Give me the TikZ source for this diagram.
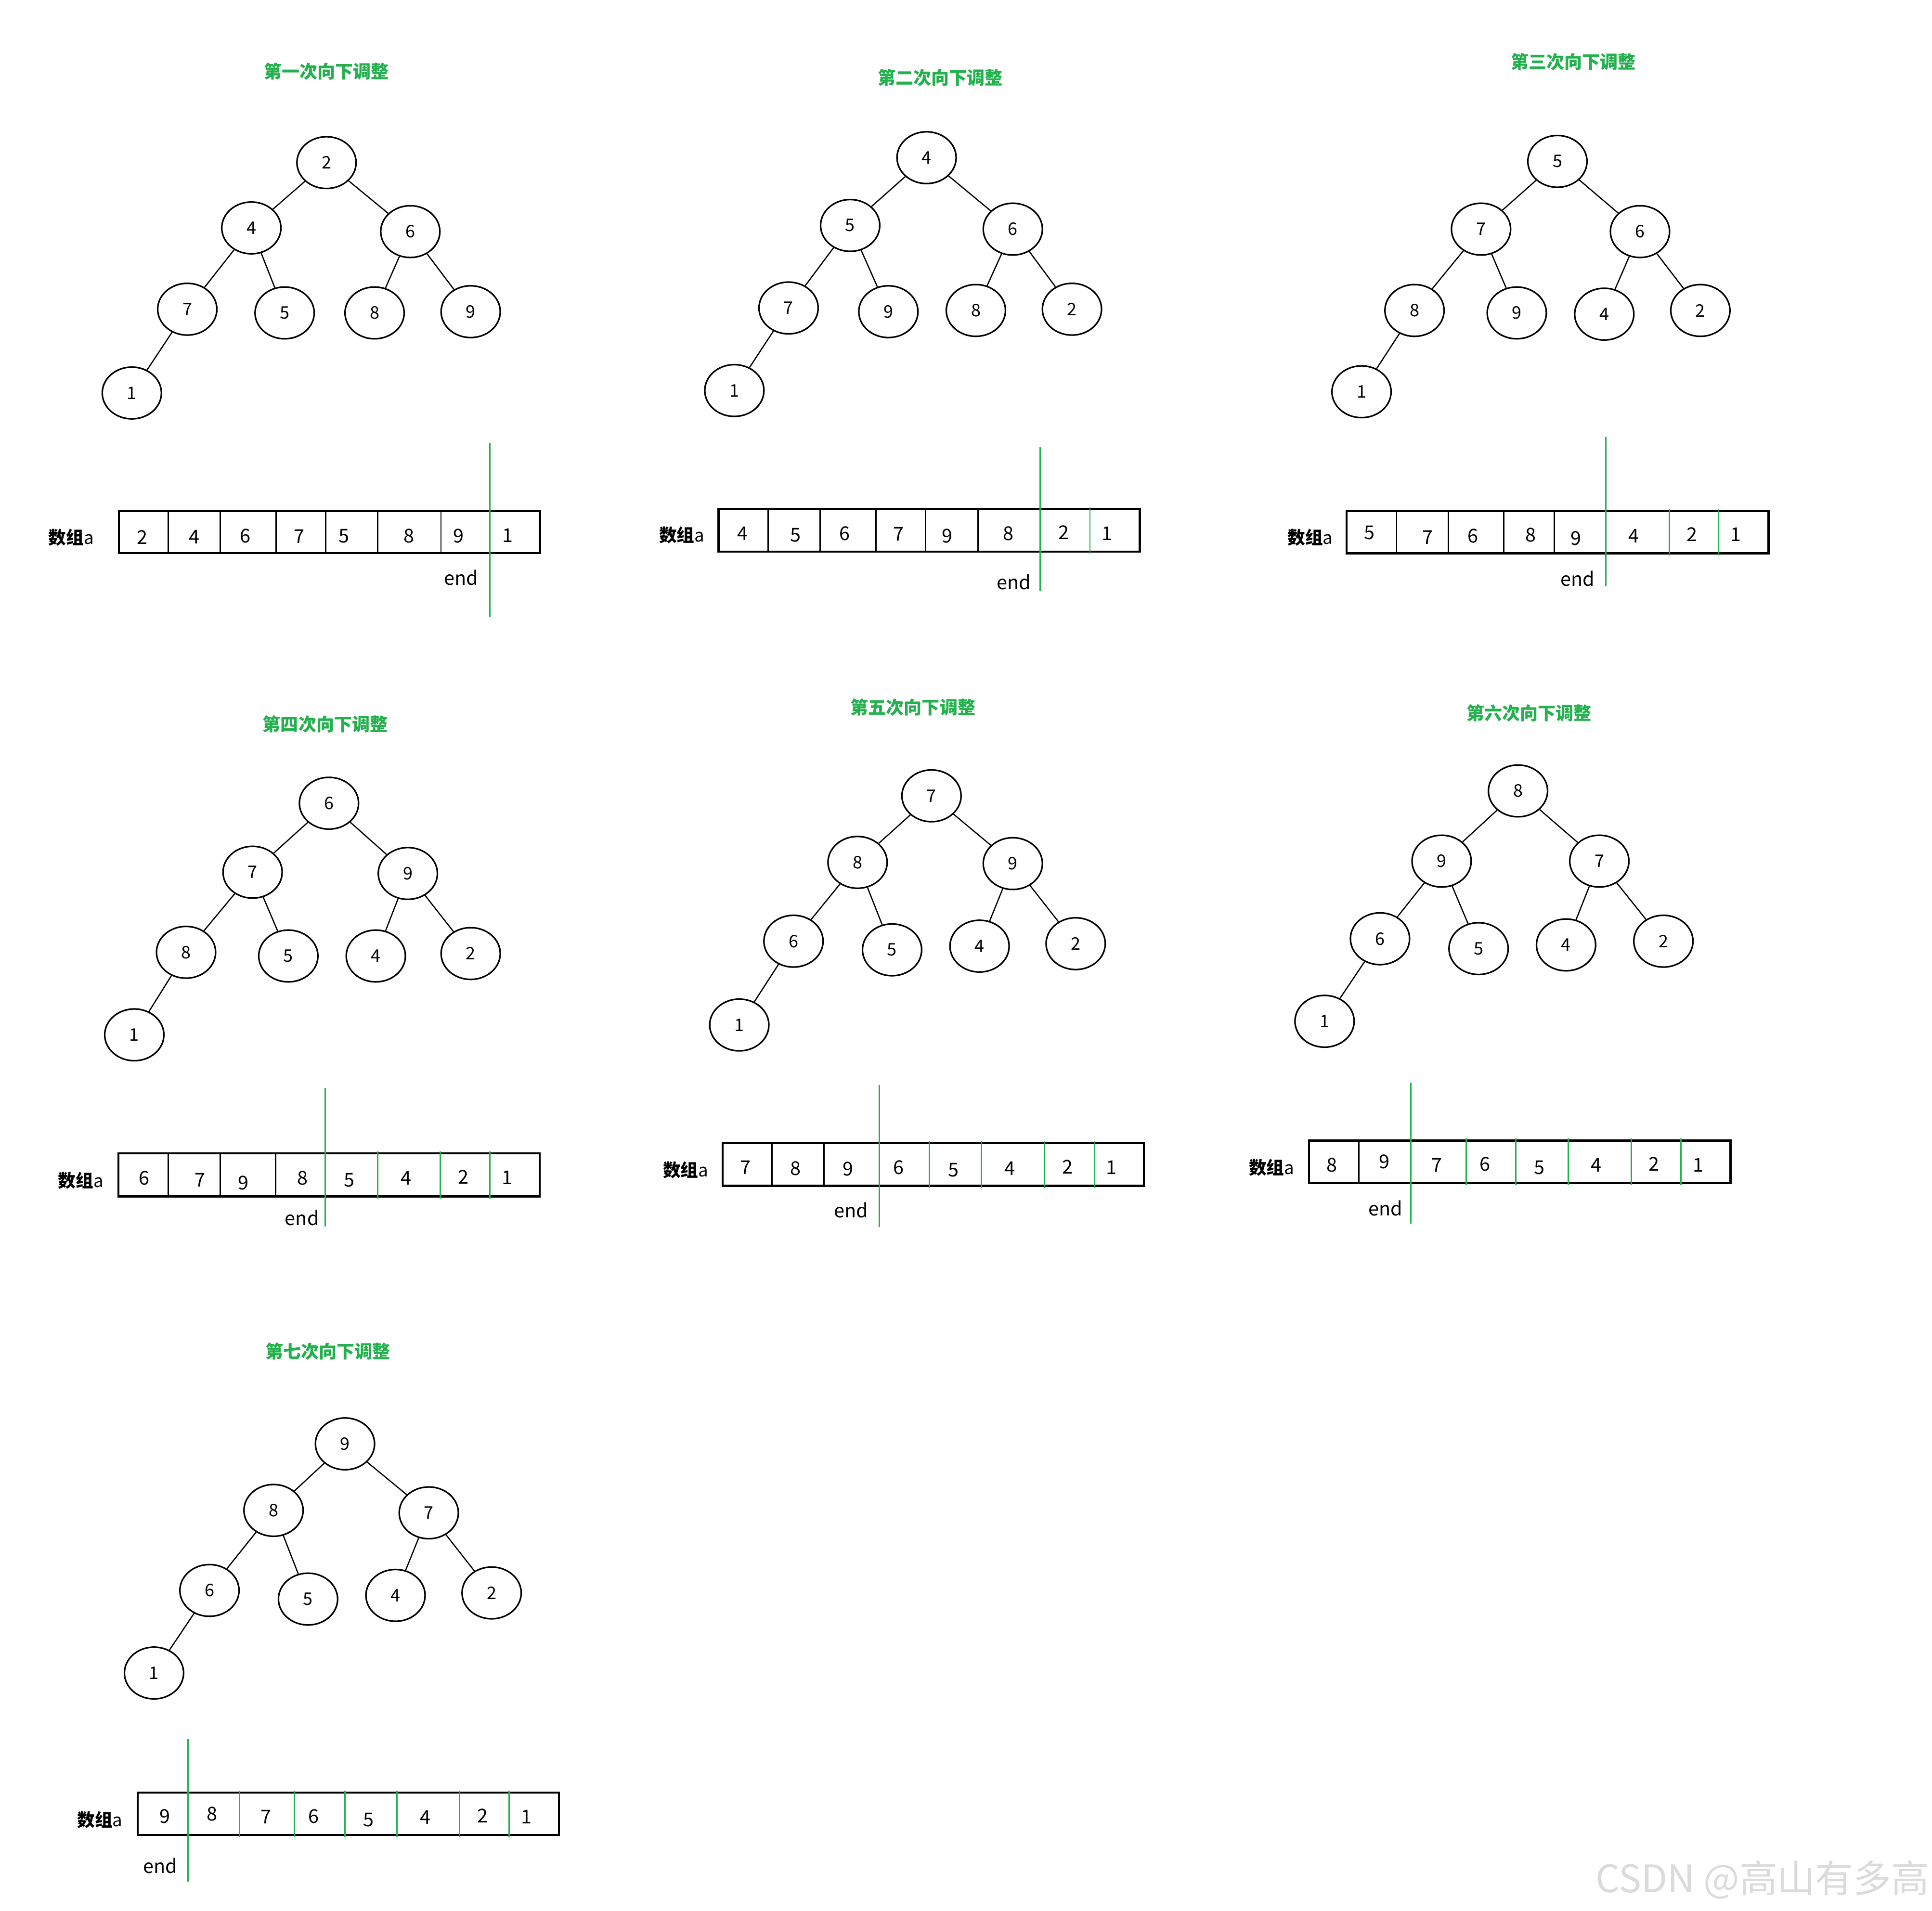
\documentclass[tikz,border=0pt]{standalone}
\usepackage{fontspec}
\setmainfont{Noto Sans CJK SC}
\usetikzlibrary{shapes.geometric}
\definecolor{pgreen}{RGB}{34,177,76}
\tikzset{
  hnode/.style={draw,ellipse,minimum width=1.2cm,minimum height=1.05cm,inner sep=0pt,line width=0.9pt,font=\fontsize{10}{11}\selectfont},
  hedge/.style={line width=0.7pt},
  ptitle/.style={text=pgreen,font=\bfseries\fontsize{10.3}{12}\selectfont,inner sep=0pt},
  cellval/.style={font=\fontsize{11}{12}\selectfont,inner sep=0pt},
  arrlabel/.style={font=\fontsize{10.2}{12}\selectfont,inner sep=0pt},
  endlabel/.style={font=\fontsize{11}{12}\selectfont,inner sep=0pt},
  boxline/.style={line width=1.2pt},
  blk/.style={line width=0.8pt},
  gdiv/.style={draw=pgreen,line width=0.8pt,shorten <=-1.2pt,shorten >=-1.2pt},
  grn/.style={draw=pgreen,line width=0.8pt},
}
\newcommand\HeapTree[2]{%
  \foreach \n/\x/\y/\v in {#2} \node[hnode] (#1\n) at (\x,\y) {\v};
  \foreach \s/\t in {a/b,a/c,b/d,b/e,c/f,c/g,d/h} \draw[hedge] (#1\s) -- (#1\t);
}
% #1 prefix, #2 left, #3 right, #4 top, #5 bottom, #6 dividers, #7 values
\newcommand\HeapArray[7]{%
  \draw[boxline] (#2,#4) rectangle (#3,#5);
  \foreach \x/\s in {#6} \draw[\s] (\x,#4) -- (\x,#5);
  \foreach \x/\y/\v [count=\i] in {#7} \node[cellval] (#1v\i) at (\x,\y) {\v};
}
% #1 prefix, #2 x, #3 top, #4 bottom, #5 label pos, #6 end pos
\newcommand\HeapEnd[6]{%
  \coordinate (#1et) at (#2,#3);
  \coordinate (#1eb) at (#2,#4);
  \draw[grn] (#1et) -- (#1eb);
  \node[arrlabel] (#1lab) at (#5) {{\bfseries 数组}a};
  \node[endlabel] (#1end) at (#6) {end};
}
\begin{document}
\begin{tikzpicture}[x=0.025cm,y=-0.025cm]
\fill[white] (0,0) rectangle (1568,1551.2);
\useasboundingbox (0,0) rectangle (1568,1551.2);

% ---------- panel 1 ----------
\node[ptitle] (t1) at (265,58) {第一次向下调整};
\HeapTree{p1}{a/265/132/2, b/204/185/4, c/333/188/6, d/152/251/7, e/231/254/5, f/304/254/8, g/382/253/9, h/107/319/1}
\HeapArray{p1}{96.4}{438.2}{415}{449}{136.7/blk,178.9/blk,224.1/blk,264.4/blk,306.6/blk,357.9/blk}{115.3/436/2,157.8/436/4,198.9/435/6,242.7/435.5/7,279.2/435/5,331.9/435/8,372.1/435/9,411.9/434.5/1}
\HeapEnd{p1}{397.7}{359.3}{500.9}{57.7,436.4}{374.4,469}

% ---------- panel 2 ----------
\node[ptitle] (t2) at (763,63) {第二次向下调整};
\HeapTree{p2}{a/752/128/4, b/690/183/5, c/822/186/6, d/640/250/7, e/721/253/9, f/792/252/8, g/870/251/2, h/596/317/1}
\HeapArray{p2}{583.1}{925.0}{413.2}{447.7}{623.5/blk,665.6/blk,710.9/blk,751.0/blk,793.7/blk,884.6/gdiv}{602.6/433/4,645.6/434.5/5,685.7/433/6,729.3/433.5/7,768.8/435/9,818.4/433/8,863.4/432.3/2,898.4/433/1}
\HeapEnd{p2}{844.2}{362.8}{480.0}{553.3,434.4}{822.7,472.2}

% ---------- panel 3 ----------
\node[ptitle] (t3) at (1277,50) {第三次向下调整};
\HeapTree{p3}{a/1264/131/5, b/1202/186/7, c/1331/188/6, d/1148/252/8, e/1231/254/9, f/1302/255/4, g/1380/252/2, h/1105/318/1}
\HeapArray{p3}{1092.9}{1435.3}{414.8}{449.1}{1133.5/blk,1175.4/blk,1220.6/blk,1261.3/blk,1354.8/gdiv,1394.9/gdiv}{1111.4/432.5/5,1158.7/436.4/7,1195.4/435/6,1242.4/434.4/8,1279.1/437/9,1326.1/435/4,1373.1/433.8/2,1408.7/434/1}
\HeapEnd{p3}{1303.2}{354.6}{475.9}{1063.3,436.4}{1280.3,469.6}

% ---------- panel 4 ----------
\node[ptitle] (t4) at (264,588) {第四次向下调整};
\HeapTree{p4}{a/267/652/6, b/205/708/7, c/331/709/9, d/151/773/8, e/234/776/5, f/305/776/4, g/382/774/2, h/109/840/1}
\HeapArray{p4}{96.1}{438.0}{936.3}{971.1}{136.6/blk,178.6/blk,223.7/blk,306.4/gdiv,357.4/gdiv,397.6/gdiv}{117.0/956.4/6,162.2/957.7/7,197.6/960/9,245.4/956.4/8,283.4/958.1/5,329.7/956.4/4,375.9/955.5/2,411.6/956/1}
\HeapEnd{p4}{263.9}{882.9}{995.4}{65.5,958.1}{245.1,988.7}

% ---------- panel 5 ----------
\node[ptitle] (t5) at (741,574) {第五次向下调整};
\HeapTree{p5}{a/756/646/7, b/696/700/8, c/822/701/9, d/644/764/6, e/724/771/5, f/795/768/4, g/873/766/2, h/600/832/1}
\HeapArray{p5}{586.4}{928.3}{928.1}{962.6}{626.6/blk,668.8/blk,754.2/gdiv,796.4/gdiv,847.7/gdiv,888.1/gdiv}{604.9/947.6/7,645.6/948.3/8,688.1/948.9/9,729.1/947.6/6,774.0/949.8/5,819.4/948.3/4,866.4/947/2,902.1/947.6/1}
\HeapEnd{p5}{713.8}{880.8}{995.8}{556.5,949.8}{690.8,982.2}

% ---------- panel 6 ----------
\node[ptitle] (t6) at (1241,579) {第六次向下调整};
\HeapTree{p6}{a/1232/642/8, b/1170/699/9, c/1298/699/7, d/1120/762/6, e/1200/770/5, f/1271/767/4, g/1350/764/2, h/1075/829/1}
\HeapArray{p6}{1062.4}{1404.5}{925.8}{960.3}{1102.8/blk,1190.0/gdiv,1230.1/gdiv,1272.9/gdiv,1323.9/gdiv,1364.3/gdiv}{1080.9/945.7/8,1123.6/943.1/9,1166.2/945.7/7,1205.1/945/6,1249.4/947.6/5,1295.6/945.7/4,1342.4/945/2,1378.1/945.7/1}
\HeapEnd{p6}{1145.1}{878.6}{993.2}{1032,947.6}{1124.5,980.9}

% ---------- panel 7 ----------
\node[ptitle] (t7) at (266,1097) {第七次向下调整};
\HeapTree{p7}{a/280/1172/9, b/222/1226/8, c/348/1228/7, d/170/1291/6, e/250/1298/5, f/321/1295/4, g/399/1293/2, h/125/1358/1}
\HeapArray{p7}{111.8}{453.6}{1455.0}{1489.5}{194.5/gdiv,239.1/gdiv,279.8/gdiv,322.1/gdiv,373.0/gdiv,413.2/gdiv}{134.0/1474.3/9,172.3/1472.6/8,215.9/1474.6/7,254.7/1474.3/6,299.1/1477.1/5,345.3/1475.2/4,391.6/1473.9/2,427.2/1474.6/1}
\HeapEnd{p7}{152.5}{1411.6}{1527.3}{81.1,1477.1}{130,1514.3}

% ---------- watermark ----------
\node[anchor=east,text=black!14,font=\fontsize{21.9}{24}\selectfont,inner sep=0pt] (wm) at (1566,1526) {CSDN @高山有多高};
\end{tikzpicture}
\end{document}
